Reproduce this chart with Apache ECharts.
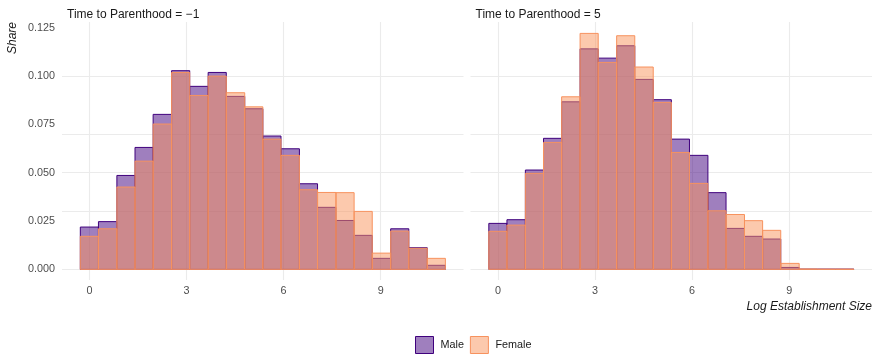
<!DOCTYPE html>
<html><head><meta charset="utf-8">
<script src="https://cdn.jsdelivr.net/npm/echarts@6/dist/echarts.min.js"></script>
<style>html,body{margin:0;padding:0;background:#fff}#c{width:873px;height:356px}</style>
</head><body><div id="c"></div>
<script>
const panelTitles = ['Time to Parenthood = \u22121', 'Time to Parenthood = 5'];
const seriesNames = ['Male', 'Female'];
const binEdges = [-0.28, 0.28, 0.85, 1.41, 1.97, 2.54, 3.10, 3.67, 4.23, 4.80, 5.36, 5.92, 6.49, 7.05, 7.62, 8.18, 8.74, 9.31, 9.87, 10.44, 11.00];
const maleM1   = [0.0219, 0.0247, 0.0486, 0.0631, 0.0802, 0.1028, 0.0947, 0.1019, 0.0895, 0.0831, 0.0690, 0.0624, 0.0443, 0.0321, 0.0253, 0.0176, 0.0057, 0.0210, 0.0112, 0.0021];
const femaleM1 = [0.0171, 0.0210, 0.0426, 0.0560, 0.0752, 0.1019, 0.0900, 0.1000, 0.0914, 0.0841, 0.0674, 0.0590, 0.0412, 0.0398, 0.0397, 0.0300, 0.0084, 0.0198, 0.0109, 0.0057];
const maleP5   = [0.0238, 0.0257, 0.0514, 0.0678, 0.0867, 0.1141, 0.1093, 0.1157, 0.0983, 0.0878, 0.0674, 0.0590, 0.0397, 0.0212, 0.0171, 0.0157, 0.0010, 0.0001, 0.0001, 0.0001];
const femaleP5 = [0.0197, 0.0229, 0.0497, 0.0657, 0.0893, 0.1221, 0.1071, 0.1209, 0.1047, 0.0864, 0.0605, 0.0445, 0.0303, 0.0284, 0.0252, 0.0202, 0.0031, 0.0002, 0.0001, 0.0001];
const xTicks = [0, 3, 6, 9];
const yTicks = [0, 0.025, 0.05, 0.075, 0.1, 0.125];

const maleFill = 'rgba(63,0,125,0.5)', maleStroke = '#3f007d';
const femaleFill = 'rgba(250,148,92,0.5)', femaleStroke = '#f7925e';
const gridCol = '#ebebeb';
const FONT = 'Liberation Sans, Arial, Helvetica, sans-serif';

function toData(vals) {
  return vals.map((v, i) => [binEdges[i], binEdges[i + 1], v]);
}
function makeRender(fill, stroke) {
  return function (params, api) {
    const p0 = api.coord([api.value(0), 0]);
    const p1 = api.coord([api.value(1), api.value(2)]);
    return {
      type: 'rect',
      shape: { x: p0[0], y: p1[1], width: p1[0] - p0[0], height: p0[1] - p1[1] },
      style: { fill: fill, stroke: stroke, lineWidth: 1 }
    };
  };
}

const grids = [
  { left: 62, top: 22, width: 401.5, height: 258 },
  { left: 470.5, top: 22, width: 401.5, height: 258 }
];
const xAxes = [0, 1].map(i => ({
  type: 'value', gridIndex: i, min: -0.846, max: 11.56,
  axisLine: { show: false }, axisTick: { show: false }, splitLine: { show: false },
  axisLabel: { customValues: xTicks, color: '#4d4d4d', fontSize: 10.8, fontFamily: FONT, margin: 6 }
}));
const yAxes = [0, 1].map(i => ({
  type: 'value', gridIndex: i, min: -0.0055, max: 0.128,
  axisLine: { show: false }, axisTick: { show: false }, splitLine: { show: false },
  axisLabel: { show: i === 0, customValues: yTicks, color: '#4d4d4d', fontSize: 10.8, fontFamily: FONT, margin: 7,
    formatter: v => v.toFixed(3) }
}));

const panels = [[maleM1, femaleM1], [maleP5, femaleP5]];
const series = [];
panels.forEach((pv, i) => {
  series.push({
    type: 'line', xAxisIndex: i, yAxisIndex: i, data: [], silent: true, z: 0,
    markLine: {
      silent: true, z: 0, symbol: ['none', 'none'], label: { show: false }, animation: false,
      emphasis: { disabled: true },
      lineStyle: { color: gridCol, width: 1.1, type: 'solid' },
      data: xTicks.map(v => ({ xAxis: v })).concat(yTicks.map(v => ({ yAxis: v })))
    }
  });
  series.push({
    name: seriesNames[0], type: 'custom', xAxisIndex: i, yAxisIndex: i, z: 2,
    itemStyle: { color: maleFill, borderColor: maleStroke, borderWidth: 1 },
    renderItem: makeRender(maleFill, maleStroke), data: toData(pv[0])
  });
  series.push({
    name: seriesNames[1], type: 'custom', xAxisIndex: i, yAxisIndex: i, z: 3,
    itemStyle: { color: femaleFill, borderColor: femaleStroke, borderWidth: 1 },
    renderItem: makeRender(femaleFill, femaleStroke), data: toData(pv[1])
  });
});

const chart = echarts.init(document.getElementById('c'), null, { renderer: 'canvas' });
chart.setOption({
  animation: false,
  backgroundColor: '#fff',
  title: panelTitles.map((t, i) => ({
    text: t, left: grids[i].left, top: 4,
    textStyle: { fontSize: 12, fontWeight: 'normal', color: '#1a1a1a', fontFamily: FONT }
  })),
  grid: grids,
  xAxis: xAxes,
  yAxis: yAxes,
  legend: {
    left: 410, top: 331, itemWidth: 18, itemHeight: 17, itemGap: 6, icon: 'rect',
    textStyle: { fontSize: 10.8, color: '#1a1a1a', fontFamily: FONT, padding: [0, 0, 0, 2] },
    data: [
      { name: seriesNames[0], itemStyle: { color: maleFill, borderColor: maleStroke, borderWidth: 1 } },
      { name: seriesNames[1], itemStyle: { color: femaleFill, borderColor: femaleStroke, borderWidth: 1 } }
    ]
  },
  graphic: [
    { type: 'text', x: 13, y: 22, rotation: Math.PI / 2,
      style: { text: 'Share', align: 'right', verticalAlign: 'middle', fill: '#1a1a1a', font: 'italic 12px ' + FONT } },
    { type: 'text', x: 872, y: 307,
      style: { text: 'Log Establishment Size', align: 'right', verticalAlign: 'middle', fill: '#1a1a1a', font: 'italic 12px ' + FONT } }
  ],
  series: series
});
</script>
</body></html>
